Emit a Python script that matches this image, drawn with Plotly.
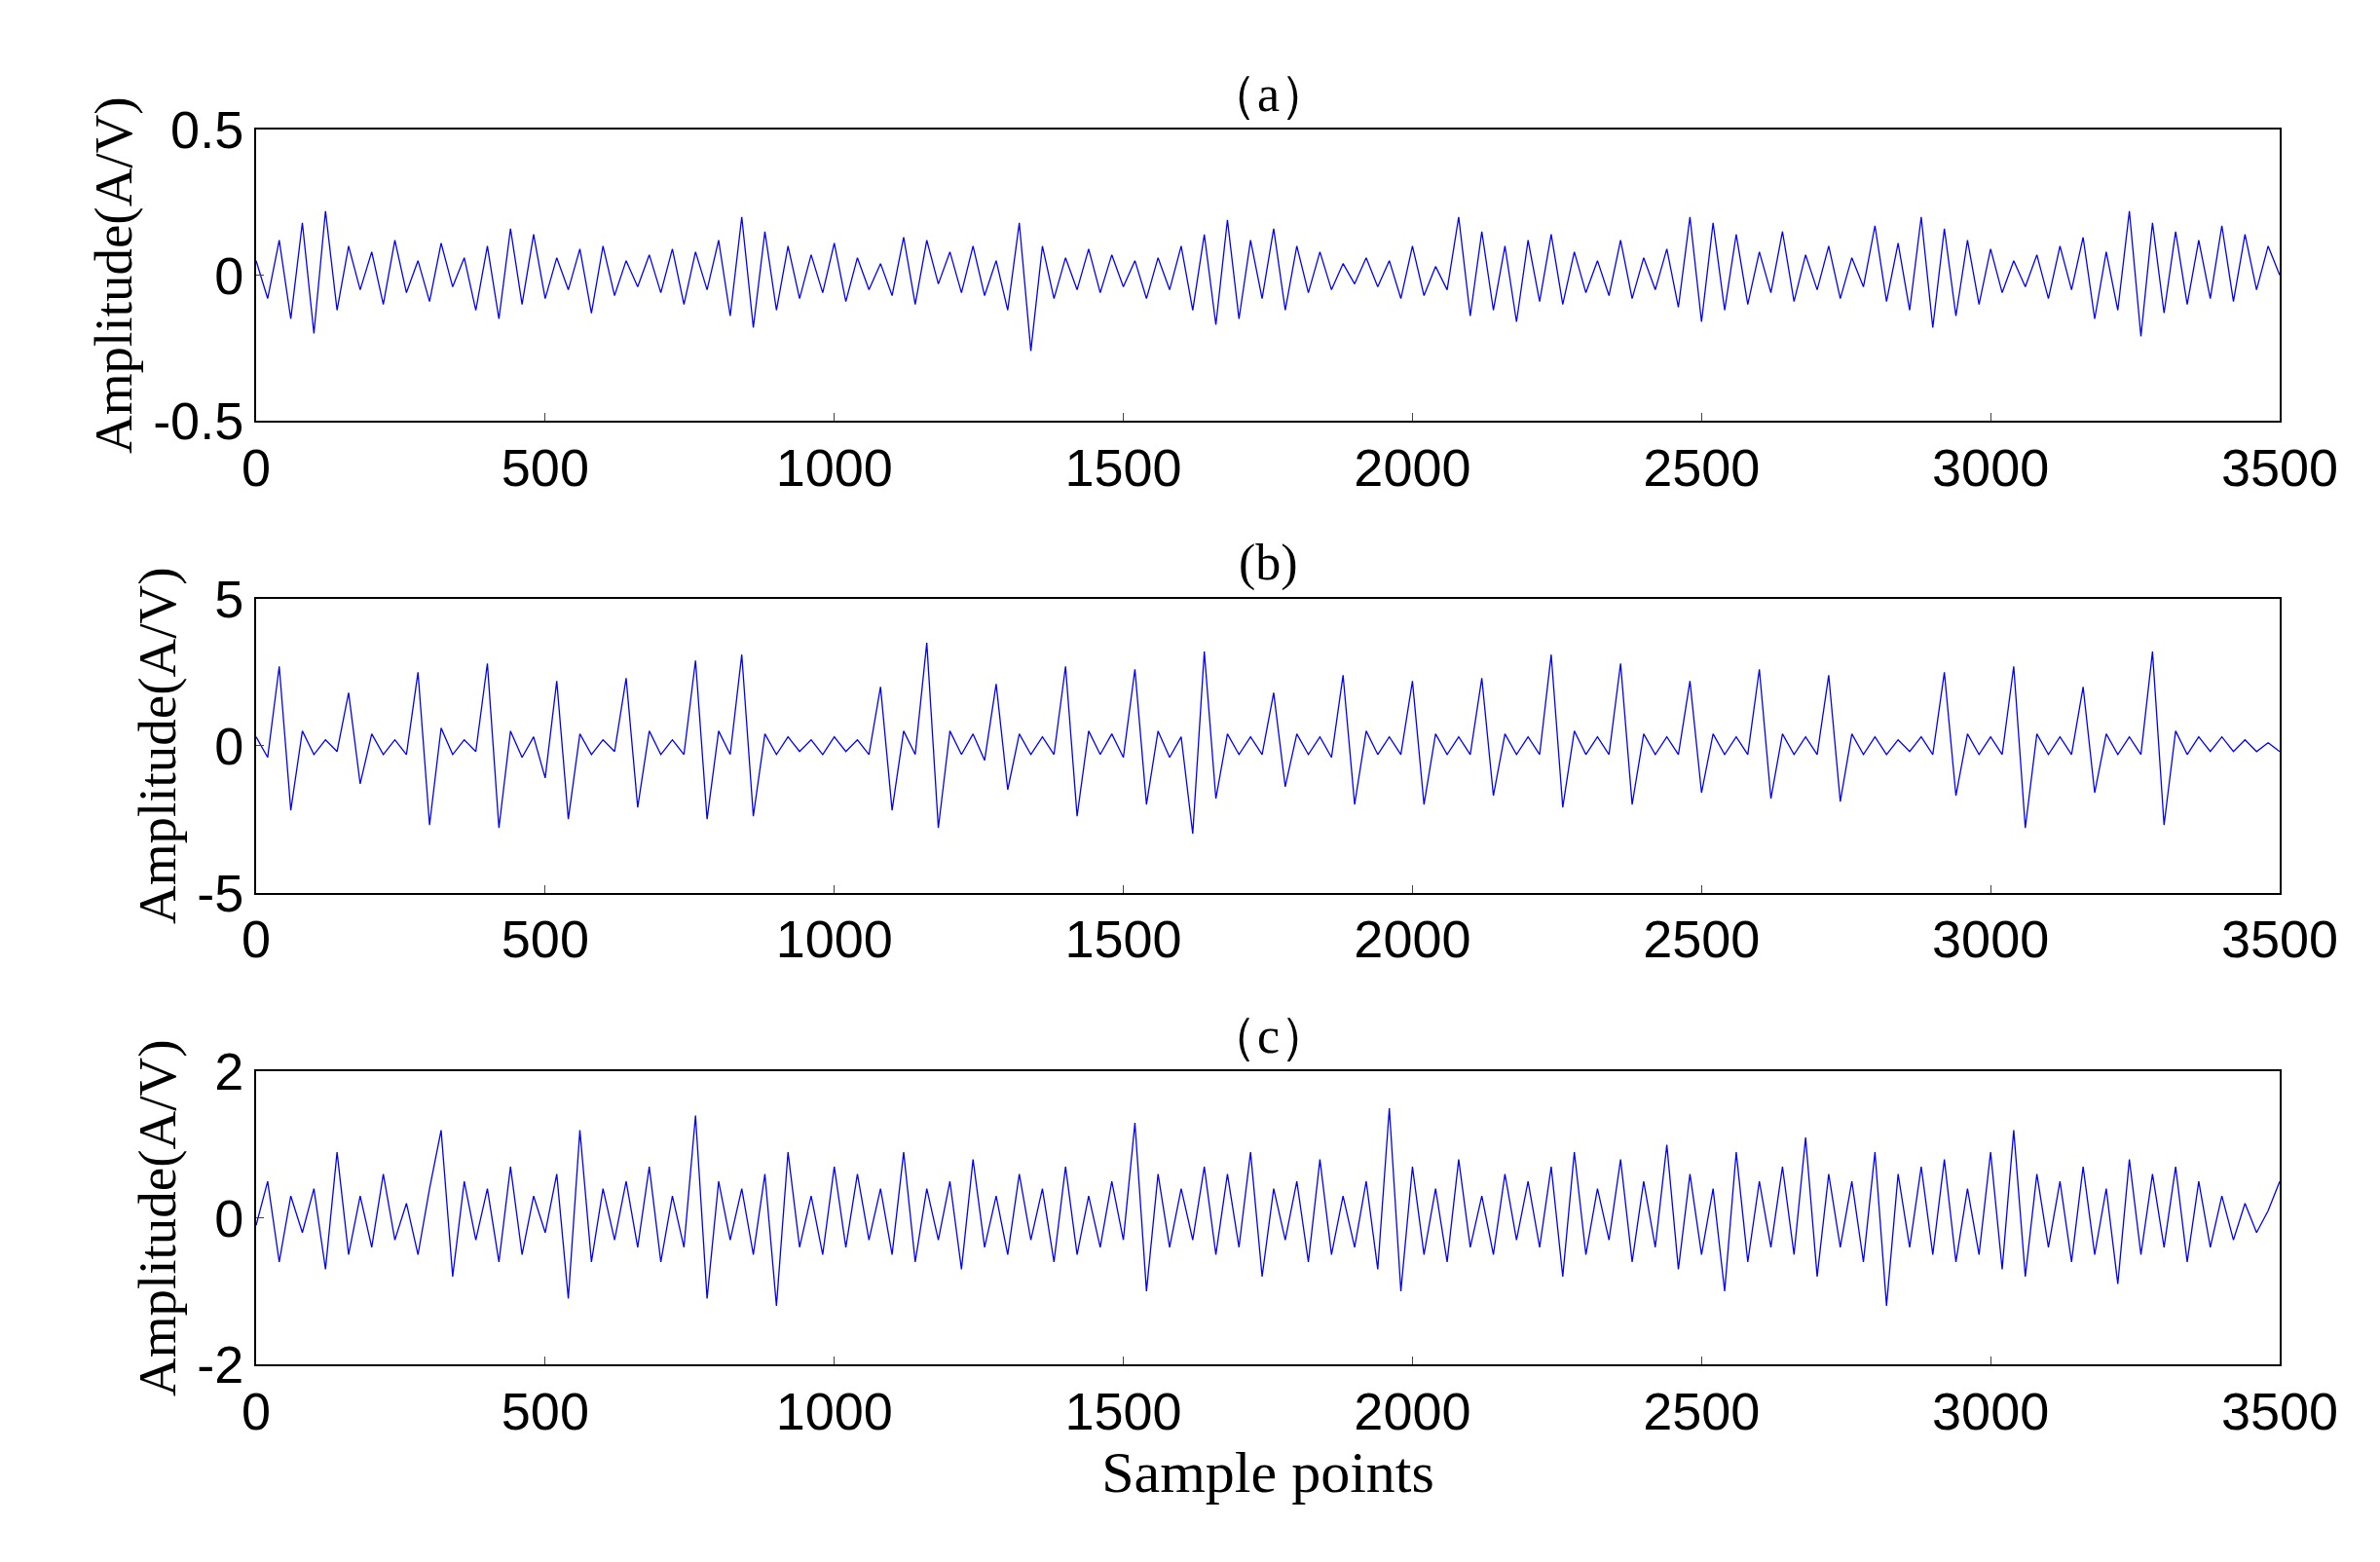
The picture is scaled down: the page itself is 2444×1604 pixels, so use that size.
import plotly.graph_objs as go
from plotly.subplots import make_subplots

# sample index, one reading every 20 points
x = list(range(0, 3501, 20))

sig_a = [0.05, -0.08, 0.12, -0.15, 0.18, -0.20, 0.22, -0.12, 0.10, -0.05,
         0.08, -0.10, 0.12, -0.06, 0.05, -0.09, 0.11, -0.04, 0.06, -0.12,
         0.10, -0.15, 0.16, -0.10, 0.14, -0.08, 0.06, -0.05, 0.09, -0.13,
         0.10, -0.07, 0.05, -0.04, 0.07, -0.06, 0.09, -0.10, 0.08, -0.05,
         0.12, -0.14, 0.20, -0.18, 0.15, -0.12, 0.10, -0.08, 0.07, -0.06,
         0.11, -0.09, 0.06, -0.05, 0.04, -0.07, 0.13, -0.10, 0.12, -0.03,
         0.08, -0.06, 0.10, -0.07, 0.05, -0.12, 0.18, -0.26, 0.10, -0.08,
         0.06, -0.05, 0.09, -0.06, 0.07, -0.04, 0.05, -0.08, 0.06, -0.05,
         0.10, -0.12, 0.14, -0.17, 0.19, -0.15, 0.12, -0.08, 0.16, -0.12,
         0.10, -0.06, 0.08, -0.05, 0.04, -0.03, 0.06, -0.04, 0.05, -0.08,
         0.10, -0.07, 0.03, -0.05, 0.20, -0.14, 0.15, -0.12, 0.10, -0.16,
         0.12, -0.09, 0.14, -0.10, 0.08, -0.06, 0.05, -0.07, 0.12, -0.08,
         0.06, -0.05, 0.09, -0.11, 0.20, -0.16, 0.18, -0.12, 0.14, -0.10,
         0.08, -0.06, 0.15, -0.09, 0.07, -0.05, 0.10, -0.08, 0.06, -0.04,
         0.17, -0.09, 0.11, -0.12, 0.20, -0.18, 0.16, -0.14, 0.12, -0.10,
         0.09, -0.06, 0.05, -0.04, 0.07, -0.08, 0.10, -0.05, 0.13, -0.15,
         0.08, -0.12, 0.22, -0.21, 0.18, -0.13, 0.15, -0.10, 0.12, -0.08,
         0.17, -0.09, 0.14, -0.05, 0.10, 0.00]

sig_b = [0.3, -0.4, 2.7, -2.2, 0.5, -0.3, 0.2, -0.2, 1.8, -1.3,
         0.4, -0.3, 0.2, -0.3, 2.5, -2.7, 0.6, -0.3, 0.2, -0.2,
         2.8, -2.8, 0.5, -0.4, 0.3, -1.1, 2.2, -2.5, 0.4, -0.3,
         0.2, -0.2, 2.3, -2.1, 0.5, -0.3, 0.2, -0.3, 2.9, -2.5,
         0.5, -0.3, 3.1, -2.4, 0.4, -0.3, 0.3, -0.2, 0.2, -0.3,
         0.3, -0.2, 0.2, -0.3, 2.0, -2.2, 0.5, -0.3, 3.5, -2.8,
         0.5, -0.3, 0.4, -0.5, 2.1, -1.5, 0.4, -0.3, 0.3, -0.3,
         2.7, -2.4, 0.5, -0.3, 0.4, -0.4, 2.6, -2.0, 0.5, -0.4,
         0.3, -3.0, 3.2, -1.8, 0.4, -0.3, 0.3, -0.3, 1.8, -1.4,
         0.4, -0.3, 0.3, -0.4, 2.4, -2.0, 0.5, -0.3, 0.3, -0.3,
         2.2, -2.0, 0.4, -0.3, 0.3, -0.3, 2.3, -1.7, 0.4, -0.3,
         0.3, -0.3, 3.1, -2.1, 0.5, -0.3, 0.3, -0.3, 2.8, -2.0,
         0.4, -0.3, 0.3, -0.3, 2.2, -1.6, 0.4, -0.3, 0.3, -0.3,
         2.6, -1.8, 0.4, -0.3, 0.3, -0.3, 2.4, -1.9, 0.4, -0.3,
         0.3, -0.3, 0.2, -0.2, 0.3, -0.3, 2.5, -1.7, 0.4, -0.3,
         0.3, -0.3, 2.7, -2.8, 0.4, -0.3, 0.3, -0.3, 2.0, -1.6,
         0.4, -0.3, 0.3, -0.3, 3.2, -2.7, 0.5, -0.3, 0.3, -0.2,
         0.3, -0.2, 0.2, -0.2, 0.1, -0.2]

sig_c = [-0.1, 0.5, -0.6, 0.3, -0.2, 0.4, -0.7, 0.9, -0.5, 0.3,
         -0.4, 0.6, -0.3, 0.2, -0.5, 0.4, 1.2, -0.8, 0.5, -0.3,
         0.4, -0.6, 0.7, -0.5, 0.3, -0.2, 0.6, -1.1, 1.2, -0.6,
         0.4, -0.3, 0.5, -0.4, 0.7, -0.6, 0.3, -0.4, 1.4, -1.1,
         0.5, -0.3, 0.4, -0.5, 0.6, -1.2, 0.9, -0.4, 0.3, -0.5,
         0.7, -0.4, 0.6, -0.3, 0.4, -0.5, 0.9, -0.6, 0.4, -0.3,
         0.5, -0.7, 0.8, -0.4, 0.3, -0.5, 0.6, -0.3, 0.4, -0.6,
         0.7, -0.5, 0.3, -0.4, 0.5, -0.3, 1.3, -1.0, 0.6, -0.4,
         0.4, -0.3, 0.7, -0.5, 0.6, -0.4, 0.9, -0.8, 0.4, -0.3,
         0.5, -0.6, 0.8, -0.5, 0.3, -0.4, 0.5, -0.7, 1.5, -1.0,
         0.7, -0.5, 0.4, -0.6, 0.8, -0.4, 0.3, -0.5, 0.6, -0.3,
         0.5, -0.4, 0.7, -0.8, 0.9, -0.5, 0.4, -0.3, 0.8, -0.6,
         0.5, -0.4, 1.0, -0.7, 0.6, -0.5, 0.4, -1.0, 0.9, -0.6,
         0.5, -0.4, 0.7, -0.5, 1.1, -0.8, 0.6, -0.4, 0.5, -0.6,
         0.9, -1.2, 0.6, -0.4, 0.7, -0.5, 0.8, -0.6, 0.4, -0.5,
         0.9, -0.7, 1.2, -0.8, 0.6, -0.4, 0.5, -0.6, 0.7, -0.5,
         0.4, -0.9, 0.8, -0.5, 0.6, -0.4, 0.7, -0.6, 0.5, -0.4,
         0.3, -0.3, 0.2, -0.2, 0.1, 0.5]

titles = ['（a）', '(b)', '（c）']
y_ranges = [(-0.5, 0.5), (-5, 5), (-2, 2)]
y_ticks = [[-0.5, 0, 0.5], [-5, 0, 5], [-2, 0, 2]]
y_ticktext = [['-0.5', '0', '0.5'], ['-5', '0', '5'], ['-2', '0', '2']]

W, H = 2444, 1604
ml, mr, mt, mb = 255, 111, 125, 211

fig = make_subplots(rows=3, cols=1)
domains = [(0.764, 1.0), (0.382, 0.620), (0.0, 0.237)]
for i, sig in enumerate([sig_a, sig_b, sig_c]):
    fig.add_trace(go.Scatter(x=x, y=sig, mode='lines',
                             line=dict(color='#0000ff', width=1.3),
                             showlegend=False), row=i + 1, col=1)
    n = '' if i == 0 else str(i + 1)
    fig.layout['xaxis' + n].update(
        domain=[0, 1], range=[0, 3500], tickvals=list(range(0, 3501, 500)),
        showline=True, mirror=True, linecolor='black', linewidth=2,
        ticks='inside', ticklen=8, showgrid=False, zeroline=False,
        tickfont=dict(family='Liberation Sans', size=54, color='black'))
    fig.layout['yaxis' + n].update(
        domain=list(domains[i]), range=list(y_ranges[i]),
        tickvals=y_ticks[i], ticktext=y_ticktext[i],
        showline=True, mirror=True, linecolor='black', linewidth=2,
        ticks='inside', ticklen=8, showgrid=False, zeroline=False,
        tickfont=dict(family='Liberation Sans', size=54, color='black'),
        title=dict(text='Amplitude(A/V)', standoff=4,
                   font=dict(family='Liberation Serif', size=55, color='black')))
    fig.add_annotation(text=titles[i], x=0.5, xref='paper',
                       y=domains[i][1], yref='paper', yanchor='bottom',
                       yshift=6, showarrow=False,
                       font=dict(family='Liberation Serif', size=52, color='black'))

fig.layout.xaxis3.title = dict(text='Sample points', standoff=10,
                               font=dict(family='Liberation Serif', size=60, color='black'))
fig.update_layout(width=W, height=H, plot_bgcolor='white', paper_bgcolor='white',
                  margin=dict(l=ml, r=mr, t=mt, b=mb))
fig.write_html('out.html')
